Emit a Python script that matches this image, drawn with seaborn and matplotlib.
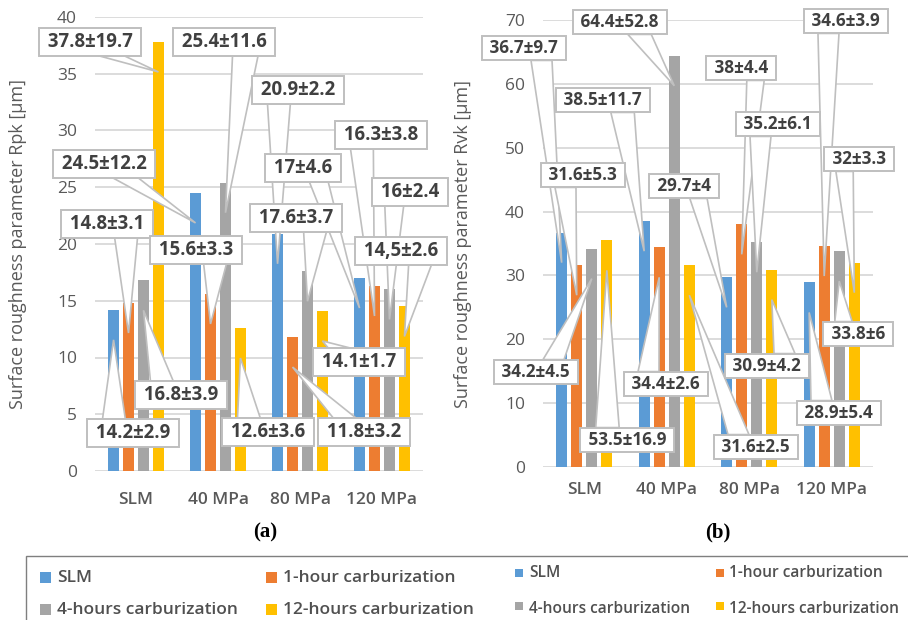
import matplotlib
matplotlib.use("Agg")
import matplotlib.pyplot as plt
import seaborn as sns
import pandas as pd
from matplotlib.patches import Rectangle, Polygon
from matplotlib.transforms import IdentityTransform

# ---------------- data ----------------
categories = ["SLM", "40 MPa", "80 MPa", "120 MPa"]
treatments = ["SLM", "1-hour carburization", "4-hours carburization", "12-hours carburization"]
colors = ["#5B9BD5", "#ED7D31", "#A5A5A5", "#FFC000"]

# (a) Rpk values per treatment, across categories
rpk_slm = [14.2, 24.5, 20.9, 17.0]
rpk_1h = [14.8, 15.6, 11.8, 16.3]
rpk_4h = [16.8, 25.4, 17.6, 16.0]
rpk_12h = [37.8, 12.6, 14.1, 14.5]
rpk_lab_slm = ["14.2±2.9", "24.5±12.2", "20.9±2.2", "17±4.6"]
rpk_lab_1h = ["14.8±3.1", "15.6±3.3", "11.8±3.2", "16.3±3.8"]
rpk_lab_4h = ["16.8±3.9", "25.4±11.6", "17.6±3.7", "16±2.4"]
rpk_lab_12h = ["37.8±19.7", "12.6±3.6", "14.1±1.7", "14,5±2.6"]

# (b) Rvk values per treatment, across categories
rvk_slm = [36.7, 38.5, 29.7, 28.9]
rvk_1h = [31.6, 34.4, 38.0, 34.6]
rvk_4h = [34.2, 64.4, 35.2, 33.8]
rvk_12h = [35.5, 31.6, 30.9, 32.0]
rvk_lab_slm = ["36.7±9.7", "38.5±11.7", "29.7±4", "28.9±5.4"]
rvk_lab_1h = ["31.6±5.3", "34.4±2.6", "38±4.4", "34.6±3.9"]
rvk_lab_4h = ["34.2±4.5", "64.4±52.8", "35.2±6.1", "33.8±6"]
rvk_lab_12h = ["53.5±16.9", "31.6±2.5", "30.9±4.2", "32±3.3"]

# ---------------- layout (callout box centres, pixels from top-left) ----------------
W, H = 908, 620
box_a = [
    [(133, 433), (104, 164), (298, 90), (303, 168)],
    [(107, 224), (196, 250), (364, 432), (381, 135)],
    [(181, 395), (224, 42), (296, 218), (410, 192)],
    [(90, 42), (268, 432), (359, 362), (401, 251)],
]
box_b = [
    [(524, 48), (603, 100), (684, 186), (839, 413)],
    [(583, 175), (666, 384), (741, 68), (846, 21)],
    [(536, 372), (620, 22), (778, 124), (858, 334)],
    [(627, 440), (756, 447), (767, 366), (859, 159)],
]


def fx(px):
    return px / W


def fy(py):
    return 1 - py / H


def long_df(series):
    rows = []
    for t, vals in zip(treatments, series):
        for c, v in zip(categories, vals):
            rows.append({"cat": c, "treat": t, "val": v})
    return pd.DataFrame(rows)


sns.set_theme(style="white")
plt.rcParams["font.family"] = ["Open Sans", "DejaVu Sans"]

fig = plt.figure(figsize=(W / 100, H / 100), dpi=100)
fig.patch.set_facecolor("white")

TXT = "#595959"
GRID = "#d9d9d9"
CALL = "#bfbfbf"

panels = [
    dict(rect=[fx(95), fy(471), 328 / W, 454 / H], ymax=40, step=5,
         series=[rpk_slm, rpk_1h, rpk_4h, rpk_12h],
         labels=[rpk_lab_slm, rpk_lab_1h, rpk_lab_4h, rpk_lab_12h],
         boxes=box_a, ylabel="Surface roughness parameter Rpk [µm]",
         lab_x=-0.207, xpad=15, fs=13.4),
    dict(rect=[fx(543), fy(467), 330 / W, 447 / H], ymax=70, step=10,
         series=[rvk_slm, rvk_1h, rvk_4h, rvk_12h],
         labels=[rvk_lab_slm, rvk_lab_1h, rvk_lab_4h, rvk_lab_12h],
         boxes=box_b, ylabel="Surface roughness parameter Rvk [µm]",
         lab_x=-0.215, xpad=11, fs=12.3),
]

group_w = 0.73
slot = group_w / 4
callouts = []  # (text artist, tip display coords)

for p in panels:
    ax = fig.add_axes(p["rect"])
    df = long_df(p["series"])
    sns.barplot(data=df, x="cat", y="val", hue="treat", order=categories,
                hue_order=treatments, palette=colors, width=group_w, gap=0.27,
                errorbar=None, legend=False, saturation=1, linewidth=0, ax=ax)
    ax.set_xlim(-0.5, 3.5)
    ax.set_ylim(0, p["ymax"])
    ax.set_yticks(range(0, p["ymax"] + 1, p["step"]))
    ax.yaxis.grid(True, color=GRID, lw=1.3)
    ax.xaxis.grid(False)
    ax.set_axisbelow(True)
    for s in ax.spines.values():
        s.set_visible(False)
    ax.tick_params(axis="y", length=0, pad=13, labelsize=12.5, labelcolor=TXT)
    ax.tick_params(axis="x", length=0, pad=p["xpad"], labelsize=12.5, labelcolor=TXT)
    for t in ax.get_xticklabels():
        t.set_fontweight("semibold")
    for t in ax.get_yticklabels():
        t.set_fontweight("medium")
    ax.set_xlabel("")
    ax.set_ylabel(p["ylabel"], fontsize=13, color=TXT)
    ax.yaxis.set_label_coords(p["lab_x"], 0.5)

    for bar in ax.patches:
        w = bar.get_width()
        if w <= 0:
            continue
        xc = bar.get_x() + w / 2
        ci = int(round(xc))
        hi = int(round((xc - ci) / slot + 1.5))
        h = bar.get_height()
        lab = p["labels"][hi][ci]
        bx, by = p["boxes"][hi][ci]
        t = fig.text(fx(bx), fy(by), " " + lab + " ", ha="center", va="center",
                     fontsize=p["fs"], fontweight="bold", color="#404040", zorder=6,
                     bbox=dict(boxstyle="square,pad=0.2", fc="white", ec=CALL, lw=1.4))
        tip = ax.transData.transform((xc, h))
        callouts.append((t, (tip[0], tip[1] - 30)))

# Excel-style wedge callouts: base on the box edge facing the tip
fig.canvas.draw()
renderer = fig.canvas.get_renderer()
for t, (tx, ty) in callouts:
    bb = t.get_bbox_patch().get_window_extent(renderer)
    x0, y0, x1, y1 = bb.x0, bb.y0, bb.x1, bb.y1
    w, h = x1 - x0, y1 - y0
    cx, cy = (x0 + x1) / 2, (y0 + y1) / 2
    dx, dy = tx - cx, ty - cy
    if abs(dy) / h > abs(dx) / w:
        g1, g2 = (7, 10) if dx > 0 else (2, 5)
        ey = y0 if dy < 0 else y1
        pts = [(x0 + w * g1 / 12, ey), (tx, ty), (x0 + w * g2 / 12, ey)]
    else:
        g1, g2 = (7, 10) if dy < 0 else (2, 5)
        ex = x1 if dx > 0 else x0
        pts = [(ex, y1 - h * g1 / 12), (tx, ty), (ex, y1 - h * g2 / 12)]
    fig.add_artist(Polygon(pts, closed=True, transform=IdentityTransform(),
                           fc="white", ec=CALL, lw=1.2, zorder=5))

# panel letters
fig.text(fx(265), fy(532), "(a)", family="Liberation Serif", weight="bold",
         size=15, ha="center", va="center", color="black")
fig.text(fx(718), fy(532), "(b)", family="Liberation Serif", weight="bold",
         size=15, ha="center", va="center", color="black")

# legend frame
fig.add_artist(Rectangle((fx(26), -0.1), 1.0, fy(556) + 0.1, transform=fig.transFigure,
                         fill=False, ec="#7f7f7f", lw=1.0, clip_on=False))

# legend entries (two legends, one per panel)
legend_specs = [
    dict(size=11, mx=[40, 266], my=[572, 604], tx=[57, 283], ty=[578, 610], fs=12.5),
    dict(size=8, mx=[515, 716], my=[569, 602], tx=[529, 729], ty=[573, 609], fs=11.2),
]
for spec in legend_specs:
    for k, (name, col) in enumerate(zip(treatments, colors)):
        r, c = divmod(k, 2)
        s = spec["size"]
        fig.add_artist(Rectangle((fx(spec["mx"][c]), fy(spec["my"][r] + s)), s / W, s / H,
                                 transform=fig.transFigure, fc=col, ec="none"))
        fig.text(fx(spec["tx"][c]), fy(spec["ty"][r]), name, fontsize=spec["fs"],
                 fontweight="semibold", color="#505050", ha="left", va="center")

fig.savefig("out.png", dpi=100, facecolor="white")
